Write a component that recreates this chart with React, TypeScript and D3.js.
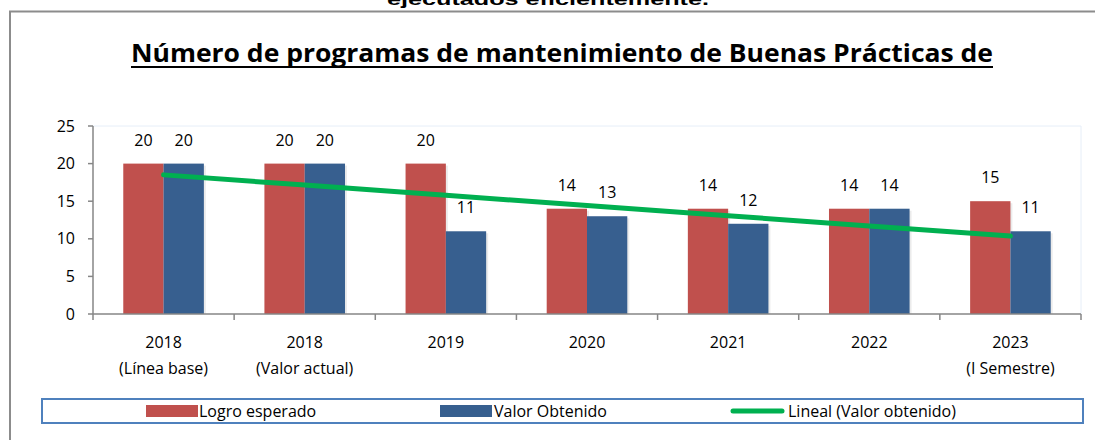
import React from "react";
import * as d3 from "d3";

const categories = [
  ["2018", "(Línea base)"],
  ["2018", "(Valor actual)"],
  ["2019"],
  ["2020"],
  ["2021"],
  ["2022"],
  ["2023", "(I Semestre)"],
];
const logroEsperado = [20, 20, 20, 14, 14, 14, 15];
const valorObtenido = [20, 20, 11, 13, 12, 14, 11];
const yTicks = [0, 5, 10, 15, 20, 25];
const seriesNames = ["Logro esperado", "Valor Obtenido", "Lineal (Valor obtenido)"];

const RED = "#C0504D";
const BLUE = "#375F8F";
const GREEN = "#00B050";
const FONT = "'Open Sans', 'Noto Sans', sans-serif";

export default function App() {
  const W = 1095, H = 440;
  const left = 93, right = 1081, top = 126, bottom = 314;
  const idx = categories.map((_, i) => String(i));
  const x = d3.scaleBand<string>().domain(idx).range([left, right]).paddingInner(0).paddingOuter(0);
  const inner = d3.scaleBand<string>().domain(["a", "b"]).range([0, 80.6]);
  const y = d3.scaleLinear().domain([0, 25]).range([bottom, top]);
  const groupOffset = (x.bandwidth() - 80.6) / 2;

  // linear trendline (least squares) on Valor obtenido
  const xs = valorObtenido.map((_, i) => i + 1);
  const mx = d3.mean(xs)!;
  const my = d3.mean(valorObtenido)!;
  const sxy = d3.sum(xs.map((xi, i) => (xi - mx) * (valorObtenido[i] - my)));
  const sxx = d3.sum(xs.map((xi) => (xi - mx) ** 2));
  const slope = sxy / sxx;
  const intercept = my - slope * mx;
  const trend = xs.map((xi) => [x(String(xi - 1))! + x.bandwidth() / 2, y(intercept + slope * xi)] as [number, number]);
  const line = d3.line()(trend)!;

  const bars: React.ReactNode[] = [];
  categories.forEach((_, i) => {
    const gx = x(String(i))! + groupOffset;
    [logroEsperado[i], valorObtenido[i]].forEach((v, j) => {
      const bx = gx + inner(j === 0 ? "a" : "b")!;
      const bw = inner.bandwidth();
      bars.push(
        <g key={`b${i}${j}`}>
          <rect x={bx + 2} y={y(v) + 2} width={bw} height={bottom - y(v) - 2} fill="#000" opacity={0.08} />
          <rect x={bx} y={y(v)} width={bw} height={bottom - y(v)} fill={j === 0 ? RED : BLUE} />
        </g>
      );
    });
  });

  const labels: React.ReactNode[] = [];
  categories.forEach((_, i) => {
    const gx = x(String(i))! + groupOffset;
    [logroEsperado[i], valorObtenido[i]].forEach((v, j) => {
      const cx = gx + inner(j === 0 ? "a" : "b")! + inner.bandwidth() / 2;
      labels.push(
        <text key={`l${i}${j}`} x={cx} y={y(v) - 18} textAnchor="middle" fontSize={16} fontFamily={FONT} fill="#000">
          {v}
        </text>
      );
    });
  });

  return (
    <svg width={W} height={H} style={{ position: "absolute", left: 0, top: 0, background: "#fff" }}>
      <rect x={0} y={0} width={W} height={H} fill="#fff" />
      {/* caption continuing from above (cut by the page top, as in the reference) */}
      <text x={548} y={5} textAnchor="middle" fontSize={17} fontWeight="bold" fontFamily="'Liberation Sans', Arial, sans-serif" textLength={322} lengthAdjust="spacingAndGlyphs">
        ejecutados eficientemente.
      </text>
      {/* outer frame */}
      <path d={`M10,${H} V11.5 H${W}`} fill="none" stroke="#8C8C8C" strokeWidth={2} />

      {/* title */}
      <text x={562} y={62} textAnchor="middle" fontSize={25} fontWeight="bold" fontFamily={FONT} textLength={862} lengthAdjust="spacingAndGlyphs">
        Número de programas de mantenimiento de Buenas Prácticas de
      </text>
      <line x1={131} x2={993} y1={67} y2={67} stroke="#000" strokeWidth={2} />

      {/* plot area faint border */}
      <path d={`M${left},${top} H${right} V${bottom}`} fill="none" stroke="#E6EEF8" strokeWidth={1} />

      {bars}

      {/* axes */}
      <line x1={left} x2={right} y1={bottom} y2={bottom} stroke="#868686" strokeWidth={1.5} />
      <line x1={left} x2={left} y1={top} y2={bottom} stroke="#868686" strokeWidth={1.5} />
      {yTicks.map((t) => (
        <g key={`yt${t}`}>
          <line x1={left - 5} x2={left} y1={y(t)} y2={y(t)} stroke="#868686" strokeWidth={1.5} />
          <text x={75} y={y(t)} dy="0.35em" textAnchor="end" fontSize={16} fontFamily={FONT}>{t}</text>
        </g>
      ))}
      {[...idx, "end"].map((k, i) => {
        const xx = k === "end" ? right : x(k)!;
        return <line key={`xt${i}`} x1={xx} x2={xx} y1={bottom} y2={bottom + 6} stroke="#868686" strokeWidth={1.5} />;
      })}
      {categories.map((c, i) => (
        <text key={`xl${i}`} x={x(String(i))! + x.bandwidth() / 2} y={348} textAnchor="middle" fontSize={16} fontFamily={FONT}>
          {c.map((s, k) => (
            <tspan key={k} x={x(String(i))! + x.bandwidth() / 2} dy={k === 0 ? 0 : 26}>{s}</tspan>
          ))}
        </text>
      ))}

      {/* trendline */}
      <path d={line} fill="none" stroke={GREEN} strokeWidth={5} strokeLinecap="round" />

      {labels}

      {/* legend */}
      <rect x={42} y={399} width={1041} height={24} fill="#fff" stroke="#4F81BD" strokeWidth={2} />
      <rect x={146} y={405} width={52} height={12} fill={RED} />
      <text x={199} y={411} dy="0.35em" fontSize={16} fontFamily={FONT}>{seriesNames[0]}</text>
      <rect x={440} y={405} width={52} height={12} fill={BLUE} />
      <text x={494} y={411} dy="0.35em" fontSize={16} fontFamily={FONT}>{seriesNames[1]}</text>
      <line x1={733} x2={782} y1={411} y2={411} stroke={GREEN} strokeWidth={5} strokeLinecap="round" />
      <text x={788} y={411} dy="0.35em" fontSize={16} fontFamily={FONT}>{seriesNames[2]}</text>
    </svg>
  );
}
